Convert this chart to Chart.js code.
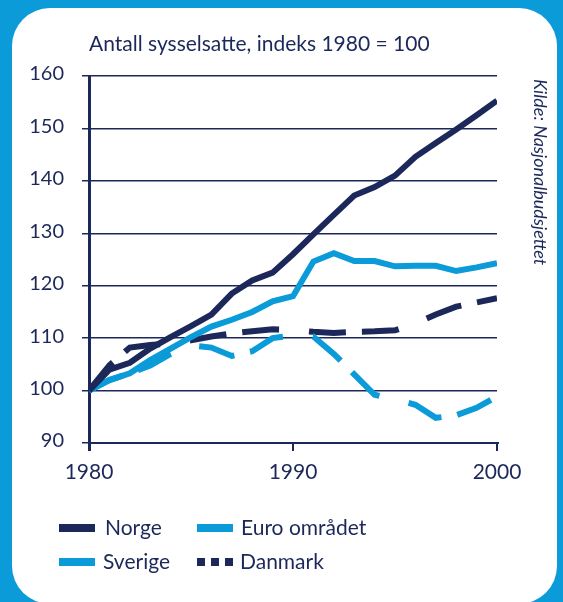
<!DOCTYPE html>
<html>
<head>
<meta charset="utf-8">
<script src="https://cdn.jsdelivr.net/npm/chart.js@4.4.1/dist/chart.umd.min.js"></script>
<style>
  html, body { margin: 0; padding: 0; background: #0a9bd8; width: 563px; height: 602px; overflow: hidden; }
  #panel { position: absolute; left: 12px; top: 8px; width: 545px; height: 596px; background: #ffffff; border-radius: 38px; }
  #c { position: absolute; left: 0; top: 0; }
</style>
</head>
<body>
<div id="panel"></div>
<canvas id="c" width="563" height="602"></canvas>
<script>
// ---- Data ----
const years = [1980, 1981, 1982, 1983, 1984, 1985, 1986, 1987, 1988, 1989, 1990,
               1991, 1992, 1993, 1994, 1995, 1996, 1997, 1998, 1999, 2000];
const norge   = [100, 104, 105.3, 108, 110.2, 112.3, 114.5, 118.5, 121, 122.5, 126,
                 129.8, 133.5, 137.2, 138.8, 141, 144.6, 147.2, 149.8, 152.5, 155.3];
const euro    = [100, 102, 103.3, 105.8, 108, 110.2, 112.2, 113.5, 115, 117, 118,
                 124.6, 126.2, 124.7, 124.7, 123.7, 123.8, 123.8, 122.8, 123.5, 124.3];
const sverige = [100, 102, 103.3, 104.8, 107, 108.6, 108.2, 106.6, 107.5, 110, 110.5,
                 110.3, 107, 103.1, 99.2, 98.3, 97.3, 94.8, 95.3, 96.7, 98.9];
const danmark = [100, 104.8, 108.2, 108.7, 109, 109.6, 110.3, 110.9, 111.3, 111.7, 111.6,
                 111.2, 111, 111.2, 111.3, 111.5, 112.8, 114.5, 116, 116.8, 117.6];
const seriesNames = ['Norge', 'Euro området', 'Sverige', 'Danmark'];
const xTicks = [1980, 1990, 2000];
const yTicks = [90, 100, 110, 120, 130, 140, 150, 160];
const titleText = 'Antall sysselsatte, indeks 1980 = 100';
const sourceText = 'Kilde: Nasjonalbudsjettet';

// ---- Styling ----
const NAVY = '#1b2859';
const LIGHT = '#0a9bd8';
const FONT = 'Lato';
const DASH = [37, 16, 37, 30];

const pts = arr => years.map((y, i) => ({ x: y, y: arr[i] }));

const datasets = [
  { label: seriesNames[0], data: pts(norge),   borderColor: NAVY,  borderWidth: 6, legendKind: 'solid' },
  { label: seriesNames[1], data: pts(euro),    borderColor: LIGHT, borderWidth: 6, legendKind: 'solid' },
  { label: seriesNames[2], data: pts(sverige), borderColor: LIGHT, borderWidth: 6, borderDash: DASH, legendKind: 'solid' },
  { label: seriesNames[3], data: pts(danmark), borderColor: NAVY,  borderWidth: 6, borderDash: DASH, legendKind: 'squares' }
].map(d => Object.assign({ pointRadius: 0, pointHoverRadius: 0, tension: 0, fill: false,
                            borderCapStyle: 'butt', borderJoinStyle: 'miter' }, d));

const extras = {
  id: 'extras',
  afterDraw(chart) {
    const ctx = chart.ctx;
    ctx.save();
    // Legend
    const items = [
      { i: 0, x: 59,  y: 528, tx: 105 },
      { i: 1, x: 197, y: 528, tx: 241 },
      { i: 2, x: 59,  y: 562, tx: 103 },
      { i: 3, x: 197, y: 562, tx: 240 }
    ];
    ctx.font = '21px ' + FONT;
    ctx.textBaseline = 'middle';
    ctx.textAlign = 'left';
    items.forEach(it => {
      const ds = chart.data.datasets[it.i];
      ctx.fillStyle = ds.borderColor;
      if (ds.legendKind === 'squares') {
        [0, 14, 28].forEach(o => ctx.fillRect(it.x + o, it.y - 4, 8, 8));
      } else {
        ctx.fillRect(it.x, it.y - 4, 36, 8);
      }
      ctx.fillStyle = NAVY;
      ctx.fillText(ds.label, it.tx, it.y);
    });
    // Source text (vertical)
    ctx.translate(540, 79);
    ctx.rotate(Math.PI / 2);
    ctx.font = 'italic 18px ' + FONT;
    ctx.fillStyle = NAVY;
    ctx.textBaseline = 'middle';
    ctx.textAlign = 'left';
    ctx.fillText(sourceText, 0, 0);
    ctx.restore();
  }
};

new Chart(document.getElementById('c'), {
  type: 'line',
  data: { datasets },
  options: {
    responsive: false,
    devicePixelRatio: 1,
    animation: false,
    events: [],
    layout: { padding: { left: 0, right: 66, top: 20, bottom: 119 } },
    plugins: {
      legend: { display: false },
      tooltip: { enabled: false },
      title: {
        display: true, text: titleText, align: 'start', fullSize: false,
        color: NAVY, font: { family: FONT, size: 21, weight: 'normal', lineHeight: 1.2 },
        padding: { top: 11.4, bottom: 19.4 }
      }
    },
    scales: {
      x: {
        type: 'linear', min: 1980, max: 2000,
        afterBuildTicks: s => { s.ticks = xTicks.map(v => ({ value: v })); },
        afterFit: s => { s.height = 40; },
        ticks: { color: NAVY, font: { family: FONT, size: 21 }, padding: 9, maxRotation: 0,
                 callback: v => String(v) },
        grid: { drawOnChartArea: false, drawTicks: true, tickLength: 8, color: NAVY,
                lineWidth: ctx => (ctx.tick && ctx.tick.value === 1980 ? 3 : 2) },
        border: { display: true, color: NAVY, width: 2 }
      },
      y: {
        min: 90, max: 160,
        afterBuildTicks: s => { s.ticks = yTicks.map(v => ({ value: v })); },
        afterFit: s => { s.width = 89; },
        ticks: { color: NAVY, font: { family: FONT, size: 20 }, padding: 18, labelOffset: -2,
                 callback: v => String(v) },
        grid: { color: NAVY, lineWidth: 1.5, tickLength: 7, drawTicks: true },
        border: { display: true, color: NAVY, width: 3 }
      }
    }
  },
  plugins: [extras]
});
</script>
</body>
</html>
